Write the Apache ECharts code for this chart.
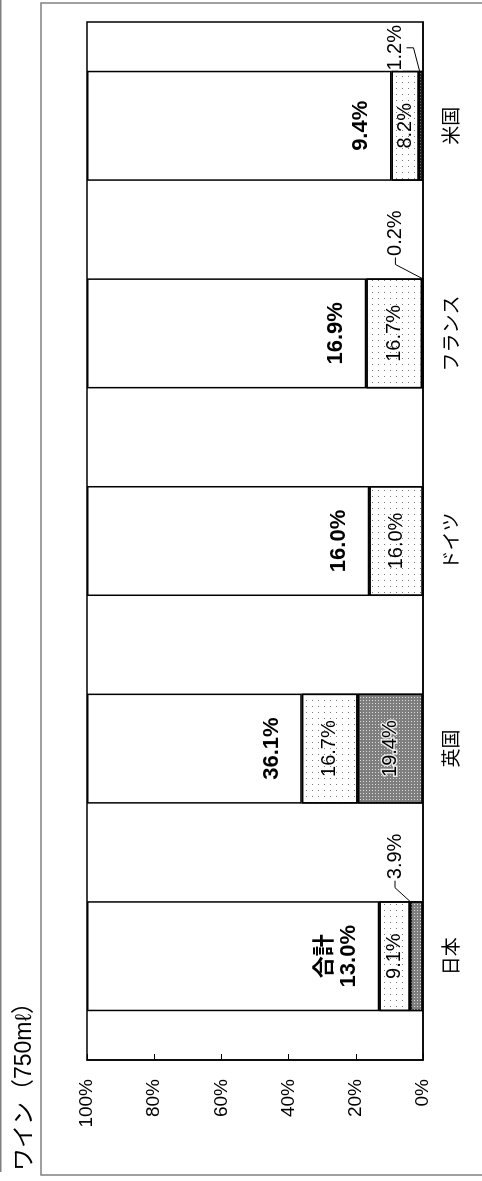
<!DOCTYPE html>
<html>
<head>
<meta charset="utf-8">
<title>ワイン（750mℓ）</title>
<script src="https://cdn.jsdelivr.net/npm/echarts@6/dist/echarts.min.js"></script>
<style>
  html, body { margin: 0; padding: 0; background: #fff; overflow: hidden; }
  /* the chart is drawn lying on its side, so lay it out wide and turn it */
  #chart {
    position: absolute; left: 0; top: 0;
    width: 1181px; height: 482px;
    transform-origin: 0 0;
    transform: translate(0, 1181px) rotate(-90deg);
  }
</style>
</head>
<body>
<div id="chart"></div>
<script>
var categories = ['日本', '英国', 'ドイツ', 'フランス', '米国'];
var darkShare = [3.9, 19.4, 0, 0.2, 1.2];
var lightShare = [9.1, 16.7, 16.0, 16.7, 8.2];
var totalShare = [13.0, 36.1, 16.0, 16.9, 9.4];
var valueTicks = [0, 20, 40, 60, 80, 100];

var restShare = totalShare.map(function (t) { return Math.round((100 - t) * 10) / 10; });

var FONT = "'Liberation Sans', 'Noto Sans CJK JP', sans-serif";
var W = 1181;
var GRID = { left: 121, right: 22, top: 87, bottom: 59 };
var PLOT_RIGHT = W - GRID.right;
var PAD = 2;

function pct(v) { return v.toFixed(1) + '%'; }

var border = { borderColor: '#000', borderWidth: 1.5 };

var chart = echarts.init(document.getElementById('chart'));
chart.setOption({
  animation: false,
  backgroundColor: '#fff',
  textStyle: { fontFamily: FONT },
  title: {
    text: 'ワイン（750mℓ）',
    left: 10, top: 13, padding: 0,
    textStyle: { fontSize: 23, fontWeight: 'normal', color: '#000', fontFamily: FONT }
  },
  graphic: [
    { type: 'rect', shape: { x: 6, y: 41, width: 1172, height: 470 },
      style: { fill: 'none', stroke: '#808080', lineWidth: 1.5 }, silent: true },
    { type: 'line', shape: { x1: 9, y1: 0.75, x2: W, y2: 0.75 },
      style: { stroke: '#808080', lineWidth: 1.5 }, silent: true }
  ],
  grid: {
    left: GRID.left, right: GRID.right, top: GRID.top, bottom: GRID.bottom,
    show: true, borderColor: '#000', borderWidth: 1.5
  },
  xAxis: {
    type: 'category',
    data: categories,
    axisLine: { lineStyle: { color: '#000', width: 1.5 } },
    axisTick: { inside: true, length: 6, lineStyle: { color: '#000', width: 1 } },
    axisLabel: { color: '#000', fontSize: 19, margin: 20, fontFamily: FONT }
  },
  yAxis: {
    type: 'value',
    min: valueTicks[0],
    max: valueTicks[valueTicks.length - 1],
    interval: valueTicks[1] - valueTicks[0],
    axisLine: { show: true, lineStyle: { color: '#000', width: 1.5 } },
    axisTick: { show: true, inside: true, length: 6, lineStyle: { color: '#000', width: 1 } },
    splitLine: { show: false },
    axisLabel: { formatter: '{value}%', color: '#000', fontSize: 19, margin: 19, fontFamily: FONT }
  },
  series: [
    {
      name: 'dark',
      type: 'bar',
      stack: 'share',
      barWidth: '53%',
      data: darkShare,
      itemStyle: Object.assign({
        color: '#7e7e7e',
        decal: { symbol: 'rect', symbolSize: 1, color: '#dcdcdc',
                 dashArrayX: [1, 2], dashArrayY: [1, 2] }
      }, border),
      label: {
        show: true,
        position: 'inside',
        padding: [2, PAD],
        color: '#000', fontSize: 20, fontFamily: FONT,
        textBorderColor: 'rgba(255,255,255,0.8)', textBorderWidth: 3,
        formatter: function (p) { return p.value > 0 ? pct(p.value) : ''; }
      },
      // small shares sit beside the bar with a leader line
      labelLayout: function (p) {
        var v = darkShare[p.dataIndex];
        if (!(v > 0 && v < 5)) return {};
        var x = Math.min(p.rect.x + p.rect.width + 20, PLOT_RIGHT - PAD - p.labelRect.width);
        return { x: x, y: p.rect.y + p.rect.height - 28, align: 'left', verticalAlign: 'middle' };
      },
      labelLine: { show: true, length2: 7, lineStyle: { color: '#000', width: 1 } }
    },
    {
      name: 'light',
      type: 'bar',
      stack: 'share',
      data: lightShare,
      itemStyle: Object.assign({
        color: '#fff',
        decal: { symbol: 'rect', symbolSize: 1, color: '#7a7a7a',
                 dashArrayX: [1, 5], dashArrayY: [1, 5] }
      }, border),
      label: {
        show: true,
        position: 'inside',
        color: '#000', fontSize: 20, fontFamily: FONT, textBorderWidth: 0,
        formatter: function (p) { return pct(p.value); }
      }
    },
    {
      name: 'rest',
      type: 'bar',
      stack: 'share',
      data: restShare,
      itemStyle: Object.assign({ color: '#fff' }, border),
      label: {
        show: true,
        position: 'insideBottom',
        distance: 18,
        color: '#000', fontSize: 22, fontWeight: 'bold', lineHeight: 24,
        fontFamily: FONT, textBorderWidth: 0,
        formatter: function (p) {
          var s = pct(totalShare[p.dataIndex]);
          return p.dataIndex === 0 ? '合計\n' + s : s;
        }
      }
    }
  ]
});
</script>
</body>
</html>
